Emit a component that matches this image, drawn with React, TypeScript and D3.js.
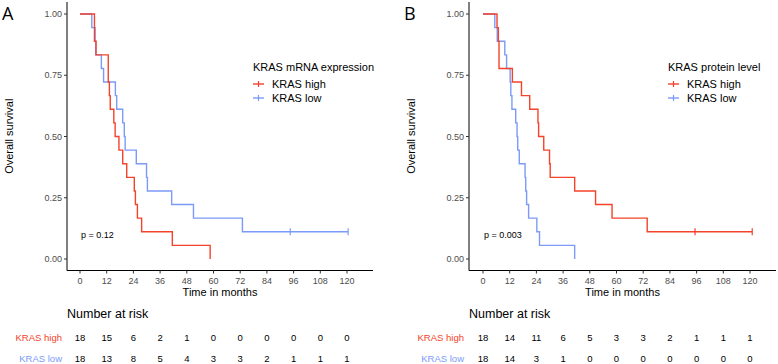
import React from "react";
import * as d3 from "d3";

// ---------- data ----------
const TIME_TICKS = [0, 12, 24, 36, 48, 60, 72, 84, 96, 108, 120];
const SURV_TICKS = [0, 0.25, 0.5, 0.75, 1];
const GROUPS = ["KRAS high", "KRAS low"];

// Panel A: KRAS mRNA expression (status 1 = death, 0 = censored)
const A_HIGH_TIME = [6.5, 6.5, 7.2, 12.7, 12.7, 13.2, 13.6, 15.2, 15.8, 17.5, 19.2, 21.0, 24.4, 24.9, 25.8, 27.7, 41.5, 58.5];
const A_HIGH_STATUS = [1, 1, 1, 1, 1, 1, 1, 1, 1, 1, 1, 1, 1, 1, 1, 1, 1, 1];
const A_LOW_TIME = [5.3, 6.8, 7.1, 9.6, 10.6, 15.9, 16.5, 19.2, 19.9, 20.3, 25.3, 29.9, 30.3, 41.2, 51.0, 73.0, 94.5, 120.5];
const A_LOW_STATUS = [1, 1, 1, 1, 1, 1, 1, 1, 1, 1, 1, 1, 1, 1, 1, 1, 0, 0];
const A_RISK_HIGH = [18, 15, 6, 2, 1, 0, 0, 0, 0, 0, 0];
const A_RISK_LOW = [18, 13, 8, 5, 4, 3, 3, 2, 1, 1, 1];

// Panel B: KRAS protein level
const B_HIGH_TIME = [6.3, 6.9, 7.2, 7.2, 13.2, 17.3, 21.0, 24.7, 25.0, 27.3, 29.9, 30.2, 41.2, 50.6, 58.0, 73.8, 95.3, 121.0];
const B_HIGH_STATUS = [1, 1, 1, 1, 1, 1, 1, 1, 1, 1, 1, 1, 1, 1, 1, 1, 0, 0];
const B_LOW_TIME = [5.3, 6.4, 9.8, 10.6, 12.2, 12.5, 13.0, 14.7, 15.3, 15.6, 16.3, 18.9, 19.2, 19.6, 20.5, 24.2, 25.4, 41.2];
const B_LOW_STATUS = [1, 1, 1, 1, 1, 1, 1, 1, 1, 1, 1, 1, 1, 1, 1, 1, 1, 1];
const B_RISK_HIGH = [18, 14, 11, 6, 5, 3, 3, 2, 1, 1, 1];
const B_RISK_LOW = [18, 14, 3, 1, 0, 0, 0, 0, 0, 0, 0];

const RED = "#F4432A";
const BLUE = "#7C9BF8";
const FONT = "'Liberation Sans', Arial, Helvetica, sans-serif";

type KM = { pts: [number, number][]; censors: [number, number][] };

function kaplanMeier(times: number[], status: number[]): KM {
  const idx = times.map((_, i) => i).sort((a, b) => times[a] - times[b]);
  const uniq = Array.from(new Set(idx.map((i) => times[i])));
  let n = times.length;
  let s = 1;
  const pts: [number, number][] = [[0, 1]];
  const censors: [number, number][] = [];
  for (const t of uniq) {
    const at = idx.filter((i) => times[i] === t);
    const d = at.filter((i) => status[i] === 1).length;
    const c = at.length - d;
    if (d > 0) {
      s = s * (1 - d / n);
      pts.push([t, s]);
    }
    if (c > 0) censors.push([t, s]);
    n -= at.length;
  }
  const tmax = d3.max(times) as number;
  if (tmax > pts[pts.length - 1][0]) pts.push([tmax, s]);
  return { pts, censors };
}

type PanelProps = {
  letter: string;
  axisX: number;
  x0: number;
  right: number;
  legendX: number;
  legendTitle: string;
  pText: string;
  high: KM;
  low: KM;
  riskHigh: number[];
  riskLow: number[];
};

function Panel(p: PanelProps) {
  const x = d3.scaleLinear().domain([0, 120]).range([p.x0, p.x0 + 267]);
  const y = d3.scaleLinear().domain([0, 1]).range([259, 14]);
  const axisY = 270.5;
  const top = 2;
  const line = d3
    .line<[number, number]>()
    .x((d) => x(d[0]))
    .y((d) => y(d[1]))
    .curve(d3.curveStepAfter);
  const curves = [
    { km: p.low, color: BLUE },
    { km: p.high, color: RED },
  ];
  const tickColor = "#4d4d4d";
  return (
    <g fontFamily={FONT}>
      <text x={p.axisX - 67 + 2} y={20} fontSize={18} fontFamily="'Open Sans', sans-serif" fill="#000">
        {p.letter}
      </text>
      {/* axes */}
      <line x1={p.axisX} x2={p.axisX} y1={top} y2={axisY} stroke="#000" strokeWidth={1} />
      <line x1={p.axisX} x2={p.right} y1={axisY} y2={axisY} stroke="#000" strokeWidth={1} />
      {SURV_TICKS.map((v) => (
        <g key={"y" + v}>
          <line x1={p.axisX - 3} x2={p.axisX} y1={y(v)} y2={y(v)} stroke="#333" />
          <text x={p.axisX - 5} y={y(v) + 3.2} fontSize={9} textAnchor="end" fill={tickColor}>
            {v.toFixed(2)}
          </text>
        </g>
      ))}
      {TIME_TICKS.map((t) => (
        <g key={"x" + t}>
          <line x1={x(t)} x2={x(t)} y1={axisY} y2={axisY + 3} stroke="#333" />
          <text x={x(t)} y={axisY + 13} fontSize={9} textAnchor="middle" fill={tickColor}>
            {t}
          </text>
        </g>
      ))}
      <text x={(p.axisX + p.right) / 2} y={296} fontSize={11} textAnchor="middle" fill="#000">
        Time in months
      </text>
      <text
        transform={`translate(${p.axisX - 54},${(top + axisY) / 2}) rotate(-90)`}
        fontSize={11}
        textAnchor="middle"
        fill="#000"
      >
        Overall survival
      </text>
      {/* curves */}
      {curves.map((c, i) => (
        <g key={"c" + i}>
          <path d={line(c.km.pts) || ""} fill="none" stroke={c.color} strokeWidth={1.4} />
          {c.km.censors.map((cp, j) => (
            <line
              key={j}
              x1={x(cp[0])}
              x2={x(cp[0])}
              y1={y(cp[1]) - 3.5}
              y2={y(cp[1]) + 3.5}
              stroke={c.color}
              strokeWidth={1.2}
            />
          ))}
        </g>
      ))}
      <text x={p.x0 + 1} y={238} fontSize={9} fill="#000">
        {p.pText}
      </text>
      {/* legend */}
      <text x={p.legendX} y={70.5} fontSize={11} fill="#000">
        {p.legendTitle}
      </text>
      {[RED, BLUE].map((col, i) => (
        <g key={"l" + i}>
          <line x1={p.legendX} x2={p.legendX + 11} y1={84 + i * 14} y2={84 + i * 14} stroke={col} strokeWidth={1.4} />
          <line
            x1={p.legendX + 5.5}
            x2={p.legendX + 5.5}
            y1={84 + i * 14 - 3}
            y2={84 + i * 14 + 3}
            stroke={col}
            strokeWidth={1.2}
          />
          <text x={p.legendX + 19} y={88 + i * 14} fontSize={11} fill="#000">
            {GROUPS[i]}
          </text>
        </g>
      ))}
      {/* risk table */}
      <text x={p.axisX} y={317.5} fontSize={12.5} fill="#000">
        Number at risk
      </text>
      {[p.riskHigh, p.riskLow].map((row, i) => (
        <g key={"r" + i}>
          <text x={p.axisX - 5} y={340.5 + i * 21.5} fontSize={9.5} textAnchor="end" fill={i === 0 ? RED : BLUE}>
            {GROUPS[i]}
          </text>
          {row.map((v, j) => (
            <text key={j} x={x(TIME_TICKS[j])} y={340.5 + i * 21.5} fontSize={9.5} textAnchor="middle" fill="#000">
              {v}
            </text>
          ))}
        </g>
      ))}
    </g>
  );
}

export default function App() {
  const aHigh = kaplanMeier(A_HIGH_TIME, A_HIGH_STATUS);
  const aLow = kaplanMeier(A_LOW_TIME, A_LOW_STATUS);
  const bHigh = kaplanMeier(B_HIGH_TIME, B_HIGH_STATUS);
  const bLow = kaplanMeier(B_LOW_TIME, B_LOW_STATUS);
  return (
    <svg
      width={778}
      height={364}
      style={{ position: "absolute", left: 0, top: 0, background: "#fff" }}
    >
      <rect width={778} height={364} fill="#fff" />
      <Panel
        letter="A"
        axisX={67}
        x0={80}
        right={373}
        legendX={253}
        legendTitle="KRAS mRNA expression"
        pText="p = 0.12"
        high={aHigh}
        low={aLow}
        riskHigh={A_RISK_HIGH}
        riskLow={A_RISK_LOW}
      />
      <Panel
        letter="B"
        axisX={469}
        x0={483}
        right={776}
        legendX={668}
        legendTitle="KRAS protein level"
        pText="p = 0.003"
        high={bHigh}
        low={bLow}
        riskHigh={B_RISK_HIGH}
        riskLow={B_RISK_LOW}
      />
    </svg>
  );
}
